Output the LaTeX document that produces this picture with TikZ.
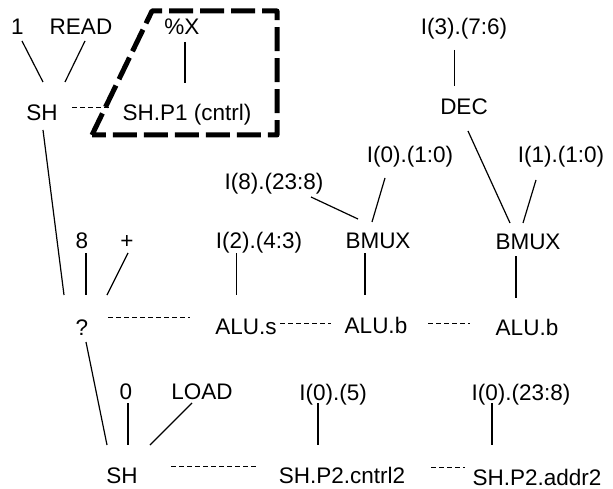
\documentclass[tikz,border=0pt]{standalone}
\usepackage{fontspec}
\setmainfont{Liberation Sans}
\usetikzlibrary{calc}
\begin{document}
\begin{tikzpicture}[x=1pt,y=-1pt,
  lbl/.style={anchor=base, inner sep=0pt, font=\fontsize{22.5}{27}\selectfont},
  wire/.style={line width=1.2pt},
  thinwire/.style={line width=0.9pt},
  dotline/.style={line width=1pt, dash pattern=on 5pt off 3pt},
  boxline/.style={line width=5pt, dash pattern=on 24pt off 7pt, line join=round}]
\useasboundingbox (0,0) rectangle (613,489);
% nodes
\node[lbl] (one)   at (17.5,34.5) {1};
\node[lbl] (read)  at (81,34.5) {READ};
\node[lbl] (pctx)  at (182,34.5) {\%X};
\node[lbl] (i376)  at (464,35) {I(3).(7:6)};
\node[lbl] (sh1)   at (42,120.5) {SH};
\node[lbl] (shp1)  at (187,120.5) {SH.P1 (cntrl)};
\node[lbl] (dec)   at (464,115) {DEC};
\node[lbl] (i010)  at (410,163) {I(0).(1:0)};
\node[lbl] (i110)  at (561,163) {I(1).(1:0)};
\node[lbl] (i8)    at (274,190) {I(8).(23:8)};
\node[lbl] (eight) at (82,248.5) {8};
\node[lbl] (plus)  at (127,248.5) {+};
\node[lbl] (i243)  at (259,248.5) {I(2).(4:3)};
\node[lbl] (bmux1) at (378,248.5) {BMUX};
\node[lbl] (bmux2) at (528,250) {BMUX};
\node[lbl] (q)     at (82,335) {?};
\node[lbl] (alus)  at (246,334) {ALU.s};
\node[lbl] (alub1) at (376,333) {ALU.b};
\node[lbl] (alub2) at (527,335) {ALU.b};
\node[lbl] (zero)  at (126,399.5) {0};
\node[lbl] (load)  at (202,399.5) {LOAD};
\node[lbl] (i05)   at (333,400) {I(0).(5)};
\node[lbl] (i0238) at (521,400) {I(0).(23:8)};
\node[lbl] (sh2)   at (122,483.5) {SH};
\node[lbl] (shcntrl) at (342,483.5) {SH.P2.cntrl2};
\node[lbl] (shaddr)  at (537,485) {SH.P2.addr2};
% dashed group box
\draw[boxline] (92,135) -- (152,11) -- (277,11) -- (277,135) -- cycle;
% connectors
\draw[wire] ($(one.base)+(4.5,6.5)$) -- ($(sh1.base)+(1,-38.5)$);
\draw[wire] ($(read.base)+(4,6.5)$) -- ($(sh1.base)+(23,-38.5)$);
\draw[wire] ($(pctx.base)+(3,7.5)$) -- ($(shp1.base)+(-2,-37.5)$);
\draw[dotline] ($(sh1.base)+(30,-12.5)$) -- ($(shp1.base)+(-77,-12.5)$);
\draw[wire] ($(sh1.base)+(1,9.5)$) -- ($(q.base)+(-18,-40)$);
\draw[wire] ($(eight.base)+(4,4.5)$) -- ($(q.base)+(4,-40)$);
\draw[wire] ($(plus.base)+(1,4.5)$) -- ($(q.base)+(25,-40)$);
\draw[dotline] ($(q.base)+(26,-18)$) -- ($(alus.base)+(-56,-17)$);
\draw[dotline] ($(alus.base)+(34,-11)$) -- ($(alub1.base)+(-45,-10)$);
\draw[dotline] ($(alub1.base)+(52,-10)$) -- ($(alub2.base)+(-57,-12)$);
\draw[thinwire] ($(i243.base)+(-23,4.5)$) -- ($(alus.base)+(-10,-39)$);
\draw[wire] ($(bmux1.base)+(-13,4.5)$) -- ($(alub1.base)+(-11,-38)$);
\draw[wire] ($(bmux2.base)+(-12,6)$) -- ($(alub2.base)+(-11,-37)$);
\draw[wire] ($(i8.base)+(37,7)$) -- ($(bmux1.base)+(-20,-29.5)$);
\draw[wire] ($(i010.base)+(-25,15)$) -- ($(bmux1.base)+(-6,-26.5)$);
\draw[wire] ($(dec.base)+(4,16)$) -- ($(bmux2.base)+(-18,-27)$);
\draw[wire] ($(i110.base)+(-25,17)$) -- ($(bmux2.base)+(-5,-27)$);
\draw[thinwire] ($(i376.base)+(-10,15)$) -- ($(dec.base)+(-10,-29)$);
\draw[wire] ($(q.base)+(4,7)$) -- ($(sh2.base)+(-15,-38.5)$);
\draw[wire] ($(zero.base)+(2,3.5)$) -- ($(sh2.base)+(6,-38.5)$);
\draw[wire] ($(load.base)+(-10,3.5)$) -- ($(sh2.base)+(28,-38.5)$);
\draw[dotline] ($(sh2.base)+(49,-17.5)$) -- ($(shcntrl.base)+(-85,-17.5)$);
\draw[wire] ($(i05.base)+(-15,3)$) -- ($(shcntrl.base)+(-24,-38.5)$);
\draw[wire] ($(i0238.base)+(-29,3)$) -- ($(shaddr.base)+(-45,-40)$);
\draw[dotline] ($(shcntrl.base)+(89,-16.5)$) -- ($(shaddr.base)+(-72,-18)$);
\end{tikzpicture}
\end{document}
